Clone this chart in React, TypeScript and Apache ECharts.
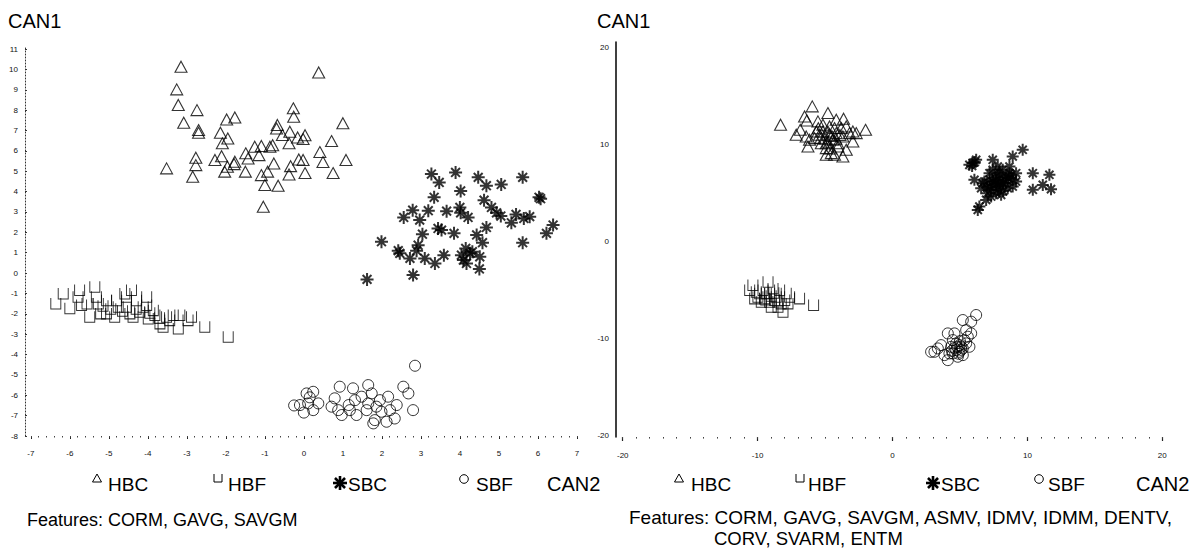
import React, { useEffect, useRef } from "react";
import * as echarts from "echarts";

// ---------- tick labels ----------
const leftXLabels = [-7, -6, -5, -4, -3, -2, -1, 0, 1, 2, 3, 4, 5, 6, 7];
const leftYLabels = [-8, -7, -6, -5, -4, -3, -2, -1, 0, 1, 2, 3, 4, 5, 6, 7, 8, 9, 10, 11];
const rightXLabels = [-20, -10, 0, 10, 20];
const rightYLabels = [-20, -10, 0, 10, 20];

// ---------- left plot (3 features) ----------
const hbcLeft = [
  [-3.15, 10.13], [-3.26, 9.02], [-3.22, 8.25], [-2.74, 8.0], [-3.08, 7.38], [-2.7, 7.02], [-2.7, 6.89],
  [-3.52, 5.14], [-2.77, 5.66], [-2.77, 5.3], [-2.85, 4.73], [-1.98, 7.54], [-1.77, 7.64], [-2.14, 6.89],
  [-2.09, 6.37], [-1.95, 6.61], [-2.11, 5.74], [-2.28, 5.55], [-2.03, 4.98], [-1.96, 5.22], [-1.77, 5.47],
  [-1.79, 5.35], [-1.5, 4.98], [-1.49, 5.88], [-1.43, 5.63], [-1.26, 6.2], [-1.15, 5.79], [-1.09, 6.24],
  [-0.87, 6.2], [-0.8, 6.28], [-1.09, 4.81], [-0.93, 4.98], [-1.0, 4.32], [-0.66, 4.29], [-1.04, 3.26],
  [-0.77, 5.38], [-0.68, 7.27], [-0.7, 7.1], [-0.55, 6.78], [-0.36, 6.94], [-0.38, 6.37], [-0.27, 8.09],
  [-0.26, 7.68], [-0.34, 5.25], [-0.38, 4.84], [-0.16, 6.66], [-0.13, 5.58], [0.38, 9.85], [1.0, 7.36],
  [0.03, 6.77], [-0.02, 6.58], [0.71, 6.48], [0.41, 5.94], [-0.02, 5.55], [0.49, 5.45], [1.08, 5.55],
  [0.03, 4.91], [0.75, 4.91],
];
const hbfLeft = [
  [-6.36, -1.49], [-6.17, -1.0], [-6.0, -1.73], [-5.79, -1.16], [-5.7, -1.57], [-5.56, -1.49], [-5.49, -2.14],
  [-5.36, -0.67], [-5.32, -1.16], [-5.27, -1.49], [-5.06, -1.98], [-5.06, -1.33], [-4.85, -2.14], [-4.8, -1.33],
  [-4.76, -1.65], [-4.59, -1.0], [-4.55, -1.65], [-4.46, -1.98], [-4.38, -2.14], [-4.29, -1.33], [-4.21, -1.9],
  [-4.12, -1.65], [-4.03, -1.57], [-3.99, -2.23], [-3.86, -1.82], [-3.82, -2.06], [-3.69, -2.47], [-3.61, -2.64],
  [-3.52, -2.14], [-3.44, -2.31], [-3.35, -2.06], [-3.22, -2.72], [-3.18, -2.06], [-2.97, -2.31], [-2.88, -2.14],
  [-2.54, -2.64], [-1.94, -3.13], [-5.21, -1.98], [-5.75, -0.83], [-4.03, -1.16], [-4.55, -1.16], [-4.42, -0.83],
  [-4.95, -1.75], [-4.65, -1.85], [-4.3, -1.75], [-3.95, -1.95], [-5.15, -1.6], [-3.7, -2.2],
];
const sbcLeft = [
  [3.27, 4.86], [3.47, 4.45], [3.89, 4.94], [4.47, 4.7], [4.68, 4.29], [5.06, 4.35], [5.61, 4.7], [4.02, 4.03],
  [3.34, 3.72], [4.62, 3.58], [6.03, 3.72], [6.07, 3.65], [2.79, 3.09], [2.56, 2.73], [2.97, 2.6], [3.19, 3.06],
  [3.66, 3.04], [4.0, 3.22], [4.02, 2.96], [4.21, 2.73], [4.81, 3.22], [4.94, 2.96], [5.05, 2.8], [5.32, 2.47],
  [5.44, 2.88], [5.64, 2.68], [5.79, 2.77], [6.39, 2.36], [6.22, 1.95], [5.61, 1.49], [3.44, 2.19], [3.53, 2.11],
  [3.85, 1.95], [4.68, 2.24], [4.43, 1.87], [4.58, 1.49], [3.04, 1.91], [2.93, 1.37], [2.89, 1.1], [2.42, 1.1],
  [2.46, 0.97], [2.72, 0.72], [3.1, 0.72], [3.36, 0.47], [3.59, 0.88], [4.04, 0.88], [4.15, 1.21], [4.26, 0.97],
  [4.17, 0.47], [4.51, 0.8], [4.5, 0.2], [1.99, 1.54], [2.8, -0.1], [1.62, -0.31], [4.09, 0.64], [4.32, 1.05],
];
const sbfLeft = [
  [2.85, -4.55], [2.8, -6.73], [2.55, -5.58], [2.68, -5.91], [0.07, -5.91], [0.24, -5.83], [0.11, -6.4],
  [0.24, -6.73], [0.37, -6.4], [-0.1, -6.48], [0.79, -6.15], [0.92, -5.58], [0.97, -6.97], [1.15, -6.48],
  [1.26, -5.66], [1.35, -6.97], [1.48, -6.07], [1.65, -5.5], [1.74, -5.91], [1.82, -7.22], [1.86, -6.56],
  [1.95, -6.24], [2.16, -6.07], [2.12, -7.3], [2.33, -7.14], [2.38, -6.48], [2.21, -6.73], [1.65, -6.4],
  [1.31, -6.24], [0.71, -6.56], [0.88, -6.73], [1.18, -6.73], [1.78, -7.38], [1.61, -6.73], [1.99, -6.81],
  [-0.25, -6.5], [0.0, -6.85], [0.15, -6.1],
];

// ---------- right plot (10 features) ----------
const hbcRight = [
  [-8.3, 12.05], [-5.95, 13.95], [-4.79, 13.26], [-6.52, 12.91], [-6.35, 12.5], [-3.63, 12.67], [-4.17, 12.57],
  [-7.14, 11.02], [-6.84, 11.53], [-5.53, 12.4], [-5.16, 12.05], [-4.67, 11.88], [-3.8, 11.71], [-3.19, 11.19],
  [-2.69, 11.19], [-2.0, 11.53], [-3.43, 11.88], [-6.15, 10.5], [-5.78, 10.67], [-5.41, 11.02], [-6.27, 9.81],
  [-4.91, 10.15], [-4.42, 10.5], [-4.05, 10.15], [-2.94, 10.33], [-3.43, 9.47], [-3.68, 8.78], [-4.91, 8.95],
  [-4.54, 9.12], [-4.3, 8.95], [-5.16, 11.36], [-4.79, 11.36], [-4.17, 11.19], [-4.67, 11.02], [-5.28, 10.15],
  [-5.65, 11.36], [-3.68, 10.84], [-6.4, 10.84], [-4.91, 9.64], [-2.94, 11.36], [-4.3, 11.71], [-4.05, 9.81],
  [-5.0, 10.6], [-4.5, 10.9], [-4.8, 10.3], [-5.3, 10.7], [-4.2, 10.6], [-3.9, 11.0], [-5.5, 11.7], [-4.6, 9.6],
];
const hbfRight = [
  [-10.59, -5.02], [-10.35, -4.5], [-9.98, -5.71], [-9.6, -5.02], [-9.23, -4.16], [-9.11, -5.36], [-8.74, -6.05],
  [-9.73, -6.22], [-8.37, -5.02], [-8.25, -6.4], [-7.88, -5.36], [-7.63, -5.71], [-8.12, -7.26], [-8.49, -6.74],
  [-8.99, -6.74], [-9.48, -5.88], [-10.1, -5.19], [-8.86, -4.85], [-7.75, -6.4], [-6.89, -5.88], [-5.85, -6.57],
  [-9.85, -5.36], [-9.36, -5.36], [-8.62, -5.71], [-7.99, -6.05], [-9.11, -6.22], [-10.22, -5.88],
  [-9.0, -5.6], [-8.8, -5.3], [-9.4, -6.0], [-8.5, -6.2],
];
const sbcRight = [
  [5.95, 8.09], [5.7, 7.91], [6.2, 8.43], [7.43, 8.43], [8.91, 8.78], [9.65, 9.47], [10.4, 7.05], [11.63, 6.88],
  [11.14, 5.84], [10.4, 5.33], [11.75, 5.4], [6.07, 6.36], [6.57, 5.5], [6.44, 3.6], [6.94, 4.29], [7.68, 4.98],
  [7.19, 7.05], [8.17, 7.4], [8.67, 7.74], [9.16, 7.05], [8.91, 5.67], [8.17, 6.02], [7.68, 6.36], [7.19, 5.67],
  [6.69, 6.02], [7.43, 7.4], [8.42, 6.71], [7.93, 6.88], [8.54, 5.5], [7.06, 4.98], [7.31, 4.64], [8.05, 5.67],
  [8.91, 6.36], [7.8, 7.74], [9.16, 6.19], [6.81, 6.19], [7.56, 5.84], [8.3, 6.36], [8.67, 7.05], [7.43, 6.19],
  [8.05, 4.81], [6.32, 3.26], [7.8, 5.33], [7.6, 6.6], [8.0, 6.2], [8.4, 6.0], [7.3, 5.3], [7.9, 7.1],
  [8.6, 6.5], [7.0, 5.6], [8.2, 5.2], [7.7, 5.9], [8.8, 6.9], [7.2, 6.4], [6.1, 8.2], [5.9, 7.8],
];
const sbfRight = [
  [6.2, -7.6], [5.83, -8.29], [5.21, -8.12], [5.46, -9.16], [4.1, -9.5], [4.47, -10.19], [3.6, -10.71],
  [3.11, -11.4], [2.86, -11.4], [3.36, -11.05], [4.1, -12.26], [4.22, -11.57], [4.72, -10.53], [5.09, -10.88],
  [5.46, -10.53], [5.21, -11.74], [4.84, -11.91], [4.47, -11.57], [4.72, -11.22], [4.96, -11.4], [5.58, -9.84],
  [5.33, -10.19], [5.83, -9.5], [3.85, -11.74], [4.35, -10.88], [4.59, -9.5], [5.7, -10.88], [5.21, -11.05],
  [4.96, -10.71], [4.8, -10.9], [5.0, -10.3], [4.6, -11.0], [5.1, -11.2], [4.9, -11.6], [4.4, -11.3],
];

const FONT = "'Liberation Sans', Arial, Helvetica, sans-serif";
const ASTERISK = "path://M5,0L5,10M0,5L10,5M1.6,1.6L8.4,8.4M8.4,1.6L1.6,8.4";
const CUP = "path://M0,0L0,10L10,10L10,0";

function minorTicks(major: number[], step: number): number[] {
  const out: number[] = [];
  const lo = major[0];
  const hi = major[major.length - 1];
  const n = Math.round((hi - lo) / step);
  for (let i = 0; i <= n; i++) out.push(+(lo + i * step).toFixed(4));
  return out;
}

function scatter(name: string, data: number[][], idx: number, kind: string) {
  const base: any = {
    name,
    type: "scatter",
    xAxisIndex: idx === 0 ? 0 : 2,
    yAxisIndex: idx,
    data,
    silent: true,
    emphasis: { disabled: true },
  };
  if (kind === "tri") {
    base.symbol = "triangle";
    base.symbolSize = [12, 11];
    base.itemStyle = { color: "rgba(0,0,0,0)", borderColor: "#000", borderWidth: 1.1 };
  } else if (kind === "cup") {
    base.symbol = CUP;
    base.symbolSize = [10, 11];
    base.itemStyle = { color: "rgba(0,0,0,0)", borderColor: "#000", borderWidth: 1 };
  } else if (kind === "ast") {
    base.symbol = ASTERISK;
    base.symbolSize = idx === 0 ? 13 : 12;
    base.itemStyle = { color: "rgba(0,0,0,0)", borderColor: "#000", borderWidth: 2 };
  } else {
    base.symbol = "circle";
    base.symbolSize = 11;
    base.itemStyle = { color: "rgba(0,0,0,0)", borderColor: "#000", borderWidth: 1 };
  }
  return base;
}

function legendRow(x: number[], y: number): any[] {
  // x: [triangle, HBC text, cup, HBF text, asterisk, SBC text, circle, SBF text, CAN2]
  const txt = (t: string, px: number, size = 19) => ({
    type: "text",
    x: px,
    y,
    style: { text: t, font: `${size}px ${FONT}`, fill: "#000", verticalAlign: "middle", align: "left" },
  });
  const cx = x[4];
  const cy = y - 1;
  const r = 7;
  const d = r * 0.72;
  const astLine = (x1: number, y1: number, x2: number, y2: number) => ({
    type: "line",
    shape: { x1, y1, x2, y2 },
    style: { stroke: "#000", lineWidth: 2.6 },
  });
  return [
    {
      type: "polygon",
      shape: { points: [[x[0] - 4.5, y - 2], [x[0] + 4.5, y - 2], [x[0], y - 10]] },
      style: { fill: "none", stroke: "#000", lineWidth: 1 },
    },
    txt("HBC", x[1]),
    {
      type: "polyline",
      shape: { points: [[x[2], y - 10], [x[2], y - 2], [x[2] + 8, y - 2], [x[2] + 8, y - 10]] },
      style: { fill: "none", stroke: "#000", lineWidth: 1 },
    },
    txt("HBF", x[3]),
    astLine(cx, cy - r, cx, cy + r),
    astLine(cx - r, cy, cx + r, cy),
    astLine(cx - d, cy - d, cx + d, cy + d),
    astLine(cx - d, cy + d, cx + d, cy - d),
    txt("SBC", x[5]),
    {
      type: "circle",
      shape: { cx: x[6], cy: y - 5, r: 4.3 },
      style: { fill: "none", stroke: "#000", lineWidth: 1 },
    },
    txt("SBF", x[7]),
    txt("CAN2", x[8], 20),
  ];
}

export default function App() {
  const ref = useRef<HTMLDivElement>(null);
  useEffect(() => {
    if (!ref.current) return;
    const chart = echarts.init(ref.current, null, { renderer: "svg" });
    const labelStyle = { fontSize: 8, color: "#111", fontFamily: FONT };
    const noLine = { show: false, onZero: false };
    const option: any = {
      animation: false,
      backgroundColor: "#fff",
      grid: [
        { left: 25, top: 47, width: 555, height: 389 },
        { left: 616, top: 42, width: 549, height: 395 },
      ],
      xAxis: [
        {
          gridIndex: 0, type: "value", min: -7.15, max: 7.08, position: "bottom",
          axisLine: noLine, splitLine: { show: false },
          axisTick: { show: true, customValues: leftXLabels, length: 3, lineStyle: { color: "#222", width: 1 } },
          axisLabel: { ...labelStyle, customValues: leftXLabels, margin: 13 },
        },
        {
          gridIndex: 0, type: "value", min: -7.15, max: 7.08, position: "bottom",
          axisLine: noLine, splitLine: { show: false },
          axisTick: { show: true, customValues: minorTicks(leftXLabels, 0.2), length: 1.5, lineStyle: { color: "#444", width: 1 } },
          axisLabel: { show: false },
        },
        {
          gridIndex: 1, type: "value", min: -20.5, max: 20.2, position: "bottom",
          axisLine: noLine, splitLine: { show: false },
          axisTick: { show: true, customValues: rightXLabels, length: 4, lineStyle: { color: "#222", width: 1.2 } },
          axisLabel: { ...labelStyle, customValues: rightXLabels, margin: 14 },
        },
        {
          gridIndex: 1, type: "value", min: -20.5, max: 20.2, position: "bottom",
          axisLine: noLine, splitLine: { show: false },
          axisTick: { show: true, customValues: minorTicks(rightXLabels, 1), length: 1.6, lineStyle: { color: "#444", width: 1 } },
          axisLabel: { show: false },
        },
      ],
      yAxis: [
        {
          gridIndex: 0, type: "value", min: -8, max: 11.1, position: "left",
          axisLine: { show: true, onZero: false, lineStyle: { color: "#333", width: 1, type: [1, 2] } },
          splitLine: { show: false },
          axisTick: { show: true, inside: true, customValues: leftYLabels, length: 2, lineStyle: { color: "#333" } },
          axisLabel: { ...labelStyle, customValues: leftYLabels, margin: 7 },
        },
        {
          gridIndex: 1, type: "value", min: -20.2, max: 20.6, position: "left",
          axisLine: { show: true, onZero: false, lineStyle: { color: "#000", width: 1.5 } },
          splitLine: { show: false },
          axisTick: { show: false },
          axisLabel: { ...labelStyle, customValues: rightYLabels, margin: 7 },
        },
      ],
      series: [
        scatter("HBC", hbcLeft, 0, "tri"),
        scatter("HBF", hbfLeft, 0, "cup"),
        scatter("SBC", sbcLeft, 0, "ast"),
        scatter("SBF", sbfLeft, 0, "circ"),
        scatter("HBC ", hbcRight, 1, "tri"),
        scatter("HBF ", hbfRight, 1, "cup"),
        scatter("SBC ", sbcRight, 1, "ast"),
        scatter("SBF ", sbfRight, 1, "circ"),
      ],
      graphic: [
        { type: "text", x: 8, y: 21, style: { text: "CAN1", font: `20px ${FONT}`, fill: "#000", verticalAlign: "middle" } },
        { type: "text", x: 597, y: 21, style: { text: "CAN1", font: `20px ${FONT}`, fill: "#000", verticalAlign: "middle" } },
        ...legendRow([97, 108, 214, 228, 340, 348, 464, 476, 547], 484),
        ...legendRow([679, 691, 796, 808, 933, 941, 1039, 1048, 1136], 484),
        { type: "text", x: 27, y: 520, style: { text: "Features: CORM, GAVG, SAVGM", font: `18px ${FONT}`, fill: "#000", verticalAlign: "middle" } },
        { type: "text", x: 629, y: 517, style: { text: "Features: CORM, GAVG, SAVGM, ASMV, IDMV, IDMM, DENTV,", font: `19px ${FONT}`, fill: "#000", verticalAlign: "middle" } },
        { type: "text", x: 714, y: 538, style: { text: "CORV, SVARM, ENTM", font: `18.5px ${FONT}`, fill: "#000", verticalAlign: "middle" } },
      ],
    };
    chart.setOption(option);
    return () => chart.dispose();
  }, []);
  return (
    <div
      ref={ref}
      style={{ position: "fixed", left: 0, top: 0, width: 1191, height: 548, background: "#fff" }}
    />
  );
}
